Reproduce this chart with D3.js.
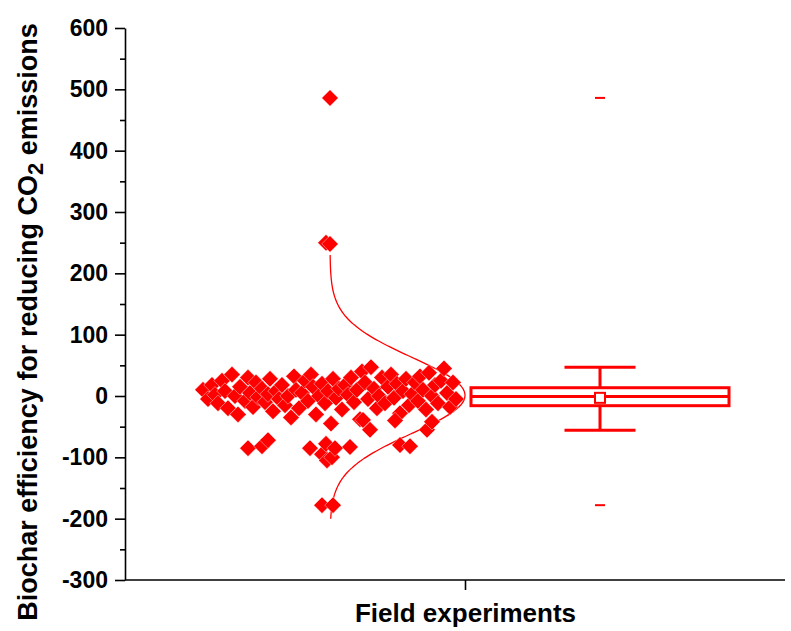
<!DOCTYPE html>
<html><head><meta charset="utf-8">
<script src="https://cdn.jsdelivr.net/npm/d3@7"></script>
<style>
body{margin:0;background:#fff}
svg{display:block}
text{font-family:"Liberation Sans",Arial,Helvetica,sans-serif;font-weight:bold;fill:#000}
</style>
</head><body>
<svg id="chart" width="791" height="631"></svg>
<script>
// ---------- data ----------
const category = "Field experiments";
const yMajorTicks = [-300,-200,-100,0,100,200,300,400,500,600];
const yMinorTicks = [-250,-150,-50,50,150,250,350,450,550];

// jittered scatter: horizontal position (axis units) and efficiency value
const scatterX = [
 0.78,0.83,0.87,0.90,0.93,0.97,1.00,1.03,1.07,1.10,1.13,1.15,1.20,1.23,1.25,1.28,1.31,1.33,
 1.37,1.40,1.43,1.45,1.48,1.51,1.54,1.57,1.60,1.63,1.66,1.69,1.71,1.74,
 1.77,1.80,1.83,1.86,1.88,1.91,1.94,1.97,2.00,2.03,2.06,2.08,2.11,2.14,
 2.17,2.20,2.23,2.26,2.29,2.32,2.35,2.37,2.40,2.43,2.46,2.49,2.52,2.54,
 2.57,2.60,2.63,2.66,2.69,2.72,2.75,2.78,2.81,2.84,2.87,2.90,2.93,2.95,
 2.98,3.01,3.04,3.07,3.10,3.13,3.16,3.19,3.22,3.25,3.28,3.31,
 1.23,1.37,1.43,1.85,1.97,2.02,2.07,2.01,2.10,2.25,2.45,2.38,2.70,2.75,2.85,3.02,3.07,
 2.05,2.01,2.05,1.97,2.08
];
const scatterY = [
 10,-5,18,2,-12,25,8,-20,35,0,-30,15,-8,30,5,-18,22,-2,
 12,-10,3,28,-25,8,-5,18,-15,0,-35,32,10,-20,
 5,25,-8,35,15,-30,0,20,-12,8,-45,28,-3,12,
 -22,18,2,30,-10,10,-38,40,22,-5,47,12,-20,0,
 30,-12,15,35,-3,20,-28,8,28,-15,3,22,-8,32,
 10,-22,38,0,18,-12,25,45,5,-18,22,-5,
 -85,-82,-72,-85,-95,-105,-100,-78,-85,-83,-55,-39,-40,-80,-82,-55,-42,
 486,250,248,-178,-178
];

// normal distribution curve
const distMean = 1, distSD = 62, distRange = [-200, 230];

// box chart statistics
const boxStats = {q1:-15.8, median:-1, q3:13.5, mean:-3, whiskerLow:-56, whiskerHigh:47, min:-178, max:486};

// ---------- layout ----------
const red = "#ff0000";
const svg = d3.select("#chart");
const x = d3.scaleLinear().domain([0, 6.8]).range([125, 805]);
const y = d3.scaleLinear().domain([-300, 600]).range([580, 28]);
const catPos = 3.4, boxCenter = 4.75, boxHalf = 1.29, capHalf = 0.355;
const curveBase = 2.05, curveAmp = 1.35;

// y axis
const yAxisG = svg.append("g").attr("transform", `translate(${x(0)},0)`);
yAxisG.call(d3.axisLeft(y).tickValues(yMajorTicks).tickSize(10).tickPadding(7)
  .tickFormat(d => String(d)).tickSizeOuter(0));
const yMinorG = svg.append("g").attr("transform", `translate(${x(0)},0)`);
yMinorG.call(d3.axisLeft(y).tickValues(yMinorTicks).tickSize(5).tickFormat("").tickSizeOuter(0));
yMinorG.select(".domain").remove();
[yAxisG, yMinorG].forEach(g => {
  g.selectAll("line").attr("stroke", "#000").attr("stroke-width", 1.6);
  g.selectAll(".domain").attr("stroke", "#000").attr("stroke-width", 1.6);
});
yAxisG.selectAll("text").style("font-size", "23px").attr("fill", "#000");

// x axis
const xAxisG = svg.append("g").attr("transform", `translate(0,${y(-300)})`);
xAxisG.call(d3.axisBottom(x).tickValues([catPos]).tickSize(10).tickPadding(14)
  .tickFormat(() => category).tickSizeOuter(0));
xAxisG.select(".domain").attr("d", `M${x(0)},0H785`).attr("stroke", "#000").attr("stroke-width", 1.6);
xAxisG.selectAll("line").attr("stroke", "#000").attr("stroke-width", 1.6);
xAxisG.selectAll("text").style("font-size", "26px").attr("fill", "#000");

// y title
const yt = svg.append("text")
  .attr("transform", "translate(37,322) rotate(-90)")
  .attr("text-anchor", "middle")
  .style("font-size", "27px");
yt.append("tspan").text("Biochar efficiency for reducing CO");
yt.append("tspan").text("2").attr("baseline-shift", "-25%").style("font-size", "22px");
yt.append("tspan").text(" emissions");

// distribution curve
const curveVals = d3.range(distRange[0], distRange[1] + 0.5, 2);
const curve = d3.line()
  .x(v => x(curveBase + curveAmp * Math.exp(-((v - distMean) ** 2) / (2 * distSD * distSD))))
  .y(v => y(v))
  .curve(d3.curveBasis);
svg.append("path").attr("d", curve(curveVals))
  .attr("fill", "none").attr("stroke", red).attr("stroke-width", 1.3);

// scatter points (diamonds)
const sym = d3.symbol(d3.symbolSquare, 136);
svg.append("g").selectAll("path").data(scatterY).join("path")
  .attr("d", sym)
  .attr("transform", (v, i) => `translate(${x(scatterX[i])},${y(v)}) rotate(45)`)
  .attr("fill", red).attr("stroke", "#fff").attr("stroke-width", 0.4);

// box chart
const bg = svg.append("g").attr("fill", "none").attr("stroke", red);
bg.append("rect")
  .attr("x", x(boxCenter - boxHalf)).attr("width", x(boxCenter + boxHalf) - x(boxCenter - boxHalf))
  .attr("y", y(boxStats.q3)).attr("height", y(boxStats.q1) - y(boxStats.q3))
  .attr("stroke-width", 3);
bg.append("line").attr("x1", x(boxCenter - boxHalf)).attr("x2", x(boxCenter + boxHalf))
  .attr("y1", y(boxStats.median)).attr("y2", y(boxStats.median)).attr("stroke-width", 3);
[[boxStats.q3, boxStats.whiskerHigh], [boxStats.q1, boxStats.whiskerLow]].forEach(([a, b]) => {
  bg.append("line").attr("x1", x(boxCenter)).attr("x2", x(boxCenter))
    .attr("y1", y(a)).attr("y2", y(b)).attr("stroke-width", 3);
  bg.append("line").attr("x1", x(boxCenter - capHalf)).attr("x2", x(boxCenter + capHalf))
    .attr("y1", y(b)).attr("y2", y(b)).attr("stroke-width", 3);
});
bg.append("rect").attr("x", x(boxCenter) - 5).attr("y", y(boxStats.mean) - 5)
  .attr("width", 10).attr("height", 10).attr("fill", "#fff").attr("stroke-width", 2);
[boxStats.min, boxStats.max].forEach(v => {
  bg.append("line").attr("x1", x(boxCenter) - 5).attr("x2", x(boxCenter) + 5)
    .attr("y1", y(v)).attr("y2", y(v)).attr("stroke-width", 2);
});
</script>
</body></html>
